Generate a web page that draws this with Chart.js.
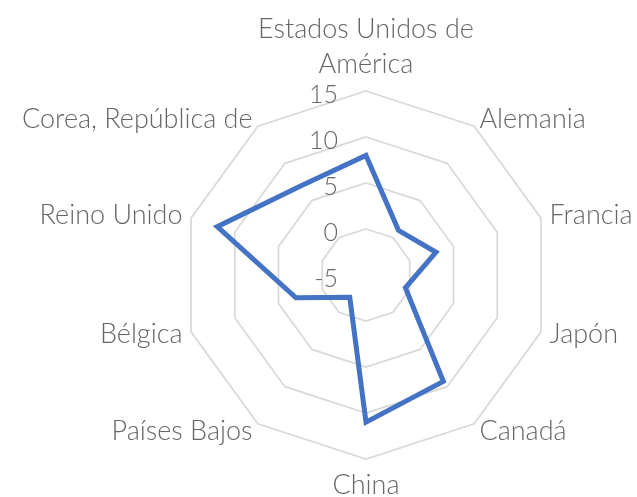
<!DOCTYPE html>
<html>
<head>
<meta charset="utf-8">
<script src="https://cdn.jsdelivr.net/npm/chart.js@4/dist/chart.umd.min.js"></script>
<style>
  html, body { margin: 0; padding: 0; background: #ffffff; }
  #wrap { width: 637px; height: 497px; }
</style>
</head>
<body>
<div id="wrap"><canvas id="radar" width="637" height="497"></canvas></div>
<script>
// Countries around the radar, clockwise from the top (multi-line labels as arrays)
const categories = [
  ['Estados Unidos de', 'América'],
  'Alemania',
  'Francia',
  'Japón',
  'Canadá',
  'China',
  'Países Bajos',
  'Bélgica',
  'Reino Unido',
  'Corea, República de'
];

// Series values, one per country
const values = [8, 1, 3, -0.5, 9.3, 11, -2, 3, 12, 7];

// Radial axis ticks
const tickValues = [-5, 0, 5, 10, 15];

const FONT_FAMILY = 'Lato, "Open Sans", sans-serif';
const FONT_WEIGHT = '300';
const TEXT_COLOR = '#666666';

// Draws the tick numbers and the country names around the web
const radarText = {
  id: 'radarText',
  afterDraw(chart) {
    const scale = chart.scales.r;
    const ctx = chart.ctx;
    ctx.save();
    ctx.fillStyle = TEXT_COLOR;

    // tick numbers, right-aligned just left of the vertical axis
    ctx.font = FONT_WEIGHT + ' 25px ' + FONT_FAMILY;
    ctx.textAlign = 'right';
    ctx.textBaseline = 'middle';
    tickValues.forEach(v => {
      const y = scale.yCenter - scale.getDistanceFromCenterForValue(v);
      ctx.fillText(String(v), scale.xCenter - 28, y + 4);
    });

    // country names outside the outer ring
    const lineH = 35;
    const n = chart.data.labels.length;
    chart.data.labels.forEach((lab, i) => {
      const lines = Array.isArray(lab) ? lab : [lab];
      const deg = (360 / n) * i;
      const p = scale.getPointPosition(i, scale.drawingArea + 9);
      let align = 'center';
      if (deg > 0.5 && deg < 179.5) align = 'left';
      else if (deg > 180.5) align = 'right';
      const H = lines.length * lineH;
      let top;
      if (Math.abs(deg) < 0.5) top = p.y - H;
      else if (Math.abs(deg - 180) < 0.5) top = p.y;
      else top = p.y - H / 2;
      ctx.font = FONT_WEIGHT + ' 27px ' + FONT_FAMILY;
      ctx.textAlign = align;
      ctx.textBaseline = 'middle';
      lines.forEach((t, k) => {
        ctx.fillText(t, p.x, top + lineH * (k + 0.5));
      });
    });
    ctx.restore();
  }
};

new Chart(document.getElementById('radar'), {
  type: 'radar',
  data: {
    labels: categories,
    datasets: [{
      data: values,
      borderColor: '#4472C4',
      borderWidth: 5,
      fill: false,
      pointRadius: 0,
      pointHoverRadius: 0,
      tension: 0
    }]
  },
  options: {
    responsive: false,
    devicePixelRatio: 1,
    animation: false,
    layout: { padding: { left: 182, right: 87, top: 91, bottom: 38 } },
    plugins: { legend: { display: false }, tooltip: { enabled: false } },
    scales: {
      r: {
        min: -5,
        max: 15,
        ticks: { display: false, stepSize: 5 },
        pointLabels: { display: false },
        angleLines: { display: false },
        grid: { color: '#d9d9d9', lineWidth: 1.75 }
      }
    }
  },
  plugins: [radarText]
});
</script>
</body>
</html>
